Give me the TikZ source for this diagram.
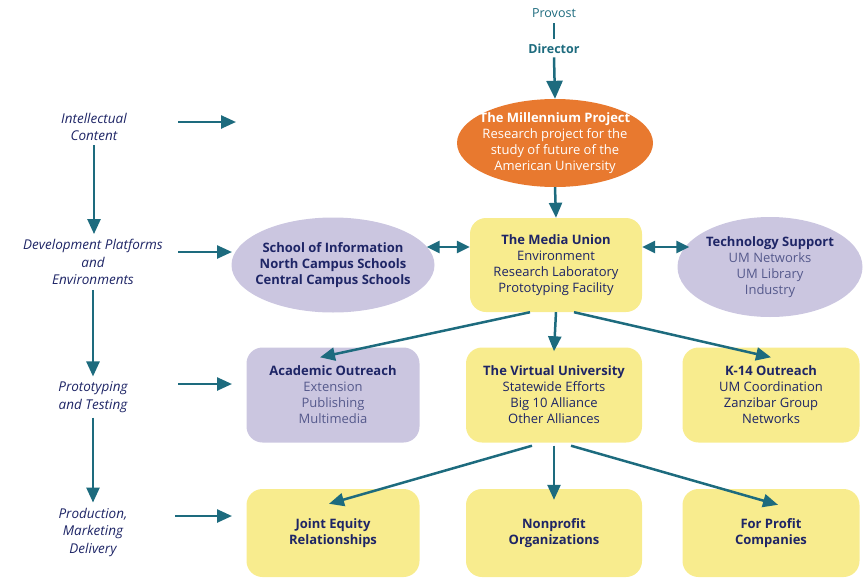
\documentclass[tikz,border=0pt]{standalone}
\usepackage{fontspec}
\setmainfont{Open Sans}
\usetikzlibrary{shapes.geometric,arrows.meta}
\definecolor{mpOrange}{HTML}{E8792F}
\definecolor{mpYellow}{HTML}{F8EC8E}
\definecolor{mpLilac}{HTML}{CBC6E0}
\definecolor{mpTeal}{HTML}{1D6B7E}
\definecolor{mpNavy}{HTML}{1E2566}
\definecolor{mpGrey}{HTML}{55598C}

\tikzset{
  stage/.style={font=\itshape\fontsize{13.5}{17.5}\selectfont, text=mpNavy, align=center, inner sep=1pt},
  flow/.style={-{Triangle[length=15pt,width=13pt]}, line width=2.5pt, draw=mpTeal},
  twoway/.style={{Triangle[length=13pt,width=12pt]}-{Triangle[length=13pt,width=12pt]}, line width=2.5pt, draw=mpTeal},
  ybox/.style={fill=mpYellow, rounded corners=16pt, minimum width=174pt, minimum height=95pt, align=center, text=mpNavy, font=\fontsize{13}{16}\selectfont},
  lbox/.style={ybox, fill=mpLilac},
  lell/.style={ellipse, fill=mpLilac, inner xsep=-7pt, inner ysep=0pt, align=center, text=mpNavy, font=\fontsize{13}{16}\selectfont}
}

\begin{document}
\begin{tikzpicture}[x=1pt, y=-1pt]
    \useasboundingbox (0,0) rectangle (863,579);

    % Reporting line at the top
    \node[text=mpTeal, font=\fontsize{12.5}{14}\selectfont] (prov) at (554,13) {Provost};
    \node[text=mpTeal, font=\bfseries\fontsize{12.5}{14}\selectfont] (dir) at (554,49) {Director};

    % The Millennium Project
    \node[ellipse, fill=mpOrange, minimum width=196pt, minimum height=88pt, inner xsep=-6pt, inner ysep=0pt, align=center, text=white, font=\fontsize{13}{16}\selectfont] (mp) at (555,143)
        {\textbf{The Millennium Project}\\Research project for the\\study of future of the\\American University};

    % Second level
    \node[ybox, minimum width=172pt, minimum height=94pt] (mu) at (556,265)
        {\textbf{The Media Union}\\Environment\\Research Laboratory\\Prototyping Facility};
    \node[lell, minimum width=203pt, minimum height=95pt] (si) at (333,265)
        {\textbf{School of Information}\\\textbf{North Campus Schools}\\\textbf{Central Campus Schools}};
    \node[lell, minimum width=185pt, minimum height=100pt] (ts) at (770,267)
        {\textbf{Technology Support}\\\textcolor{mpGrey}{UM Networks}\\\textcolor{mpGrey}{UM Library}\\\textcolor{mpGrey}{Industry}};

    % Third level
    \node[lbox, minimum width=173pt] (ao) at (333,395)
        {\textbf{Academic Outreach}\\\textcolor{mpGrey}{Extension}\\\textcolor{mpGrey}{Publishing}\\\textcolor{mpGrey}{Multimedia}};
    \node[ybox, minimum width=176pt] (vu) at (554,395)
        {\textbf{The Virtual University}\\Statewide Efforts\\Big 10 Alliance\\Other Alliances};
    \node[ybox, minimum width=177pt] (k14) at (771,395)
        {\textbf{K-14 Outreach}\\UM Coordination\\Zanzibar Group\\Networks};

    % Fourth level
    \node[ybox, minimum width=173pt, minimum height=88pt] (je) at (333,533)
        {\textbf{Joint Equity}\\\textbf{Relationships}};
    \node[ybox, minimum width=176pt, minimum height=88pt] (np) at (554,533)
        {\textbf{Nonprofit}\\\textbf{Organizations}};
    \node[ybox, minimum width=177pt, minimum height=88pt] (fp) at (771,533)
        {\textbf{For Profit}\\\textbf{Companies}};

    % Stages on the left
    \node[stage] (ic) at (94,127) {Intellectual\\Content};
    \node[stage] (dp) at (93,262) {Development Platforms\\and\\Environments};
    \node[stage] (pt) at (93,397) {Prototyping\\and Testing};
    \node[stage] (pd) at (93,532) {Production,\\Marketing\\Delivery};

    % Stage pointers
    \coordinate (ic-out) at (178,122);
    \coordinate (ic-in) at (236,122);
    \coordinate (dp-out) at (178,252);
    \coordinate (dp-in) at (232,252);
    \coordinate (pt-out) at (178,384);
    \coordinate (pt-in) at (232,384);
    \coordinate (pd-out) at (175,516);
    \coordinate (pd-in) at (232,516);

    % Connecting the stages
    \draw[flow] ([yshift=-3pt]ic.south) -- ([yshift=4pt]ic.south |- dp.north);
    \draw[flow] ([yshift=-4pt]dp.south) -- ([yshift=4pt]pt.north);
    \draw[flow] ([yshift=-4pt]pt.south) -- ([yshift=4pt]pd.north);
    \draw[flow] (ic-out) -- (ic-in);
    \draw[flow] (dp-out) -- (dp-in);
    \draw[flow] (pt-out) -- (pt-in);
    \draw[flow] (pd-out) -- (pd-in);

    % Connecting the top
    \draw[mpTeal, line width=2pt] ([yshift=-2pt]prov.south) -- ([yshift=2pt]dir.north);
    \draw[flow, -{Triangle[length=18pt,width=16pt]}] (dir.south) -- (mp.north);
    \draw[flow] (mp.south) -- (mu.north);

    % Links of the Media Union
    \draw[twoway] ([xshift=-8pt,yshift=18pt]si.east) -- ([yshift=18pt]mu.west);
    \draw[twoway] ([yshift=18pt]mu.east) -- ([xshift=12pt,yshift=20pt]ts.west);
    \draw[flow] ([xshift=-26pt]mu.south) -- ([xshift=-13pt,yshift=-10pt]ao.north);
    \draw[flow] (mu.south) -- ([yshift=-4pt]vu.north);
    \draw[flow] ([xshift=18pt]mu.south) -- ([yshift=-10pt]k14.north);

    % Links of the Virtual University
    \draw[flow] ([xshift=-22pt,yshift=-3pt]vu.south) -- ([xshift=-4pt,yshift=-15pt]je.north);
    \draw[flow] ([yshift=-3pt]vu.south) -- ([yshift=-11pt]np.north);
    \draw[flow] ([xshift=17pt,yshift=-3pt]vu.south) -- ([xshift=7pt,yshift=-16pt]fp.north);
\end{tikzpicture}
\end{document}
